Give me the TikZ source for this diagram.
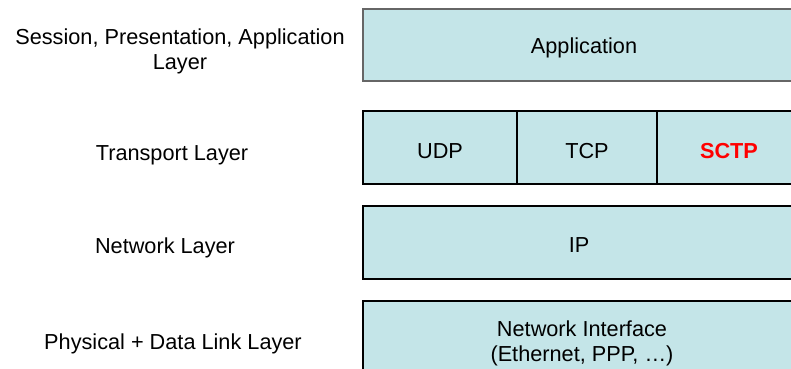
\documentclass[tikz,border=0pt]{standalone}
\usepackage{fontspec}
\setmainfont{Liberation Sans}
\definecolor{layerfill}{HTML}{C4E5E8}
\definecolor{sctpred}{HTML}{FF0000}
\begin{document}
\begin{tikzpicture}[x=1pt,y=-1pt,
  font=\fontsize{21.7pt}{25pt}\selectfont,
  layerbox/.style={draw=black, line width=1.2pt, fill=layerfill, inner sep=0pt, outer sep=0pt, anchor=north west},
  sidelabel/.style={align=center, text=black},
  boxtext/.style={align=center, text=black}]
\useasboundingbox (0,0) rectangle (791,368);
\clip (0,0) rectangle (791,368);

% protocol stack boxes
\node[layerbox, draw=black!60, line width=1.5pt, minimum width=442pt, minimum height=72pt] (appbox) at (363,9) {};
\node[layerbox, minimum width=154pt, minimum height=73pt] (udpbox) at (363,111) {};
\node[layerbox, minimum width=140pt, minimum height=73pt] (tcpbox) at (517,111) {};
\node[layerbox, minimum width=148pt, minimum height=73pt] (sctpbox) at (657,111) {};
\node[layerbox, minimum width=442pt, minimum height=73pt] (ipbox) at (363,206) {};
\node[layerbox, minimum width=442pt, minimum height=90pt] (nibox) at (363,301) {};

% box labels
\node[boxtext] (apptext) at (584,48) {Application};
\node[boxtext] (udptext) at (440,151) {UDP};
\node[boxtext] (tcptext) at (587,151) {TCP};
\node[boxtext, text=sctpred, font=\fontsize{21.7pt}{25pt}\selectfont\bfseries] (sctptext) at (729,151) {SCTP};
\node[boxtext] (iptext) at (579,245) {IP};
\node[boxtext] (nitext) at (582,343) {Network Interface\\(Ethernet, PPP, \ldots)};

% layer names on the left
\node[sidelabel] (l5) at (180,51) {Session, Presentation, Application\\Layer};
\node[sidelabel] (l4) at (172,155) {Transport Layer};
\node[sidelabel] (l3) at (165,248) {Network Layer};
\node[sidelabel] (l1) at (173,344) {Physical + Data Link Layer};
\end{tikzpicture}
\end{document}
